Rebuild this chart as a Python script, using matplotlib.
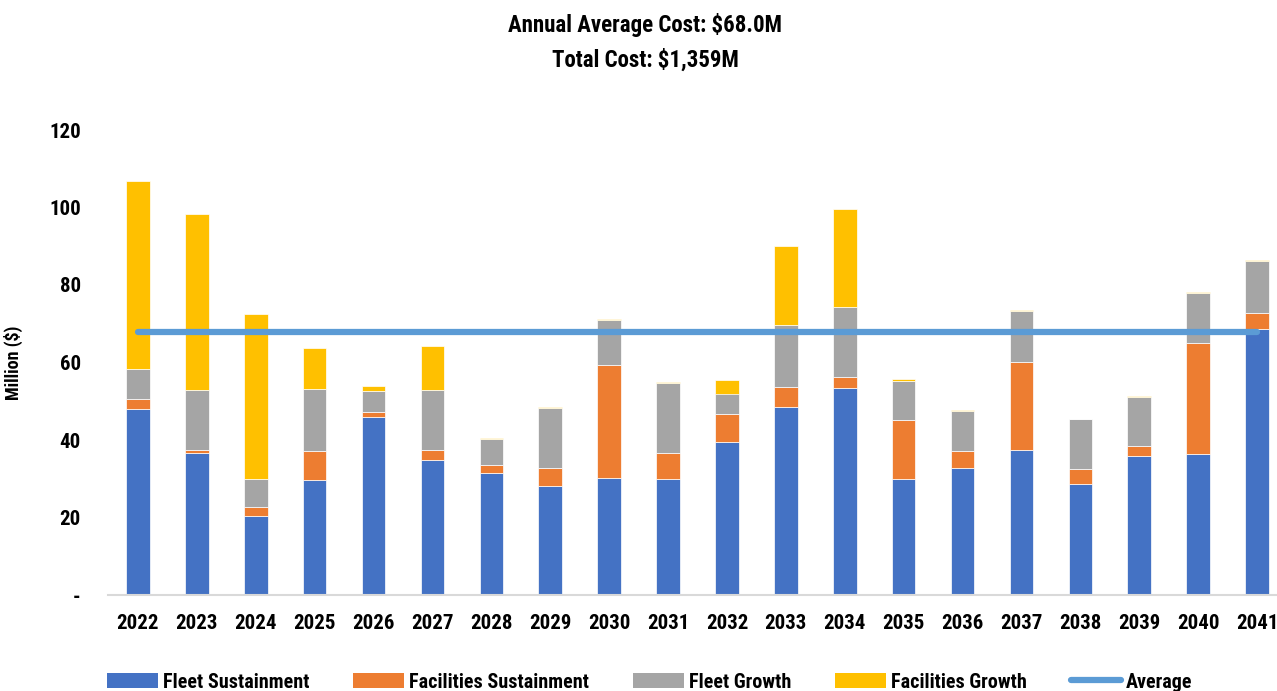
import matplotlib
matplotlib.use("Agg")
import matplotlib.pyplot as plt
import matplotlib.font_manager as fm
from matplotlib.patches import Patch
from matplotlib.lines import Line2D
import numpy as np

years = [str(y) for y in range(2022, 2042)]
fleet_sustainment = [47.9, 36.7, 20.5, 29.8, 46.0, 34.9, 31.6, 28.1, 30.1, 29.9,
                     39.6, 48.6, 53.5, 30.0, 32.7, 37.5, 28.7, 36.0, 36.3, 68.6]
facilities_sustainment = [2.7, 0.8, 2.3, 7.3, 1.1, 2.4, 1.9, 4.6, 29.3, 6.8,
                          7.0, 5.0, 2.7, 15.1, 4.4, 22.7, 3.7, 2.4, 28.8, 4.3]
fleet_growth = [7.8, 15.4, 7.2, 16.1, 5.5, 15.5, 6.8, 15.6, 11.5, 17.9,
                5.4, 16.2, 18.0, 10.2, 10.3, 13.0, 12.9, 12.8, 12.9, 13.3]
facilities_growth = [48.5, 45.5, 42.4, 10.5, 1.3, 11.5, 0.3, 0.2, 0.3, 0.4,
                     3.4, 20.3, 25.3, 0.4, 0.3, 0.3, 0.2, 0.2, 0.3, 0.3]
average = 68.0
series_names = ["Fleet Sustainment", "Facilities Sustainment", "Fleet Growth",
                "Facilities Growth", "Average"]
title_lines = ["Annual Average Cost: $68.0M", "Total Cost: $1,359M"]
yticks = [0, 20, 40, 60, 80, 100, 120]
ytick_labels = ["-", "20", "40", "60", "80", "100", "120"]

colors = ["#4472C4", "#ED7D31", "#A5A5A5", "#FFC000"]
line_color = "#5B9BD5"

names = {f.name for f in fm.fontManager.ttflist}
family = "DejaVu Sans"
for cand in ["Roboto Condensed", "Liberation Sans Narrow", "Open Sans Condensed"]:
    if cand in names:
        family = cand
        break
plt.rcParams["font.family"] = [family, "DejaVu Sans"]

W, H = 1277, 691
fig = plt.figure(figsize=(W / 100, H / 100), dpi=100)
left, right = 108.5, 1286.5
bottom, top = 595, 130
ax = fig.add_axes([left / W, (H - bottom) / H, (right - left) / W, (bottom - top) / H])

x = np.arange(len(years))
series = [fleet_sustainment, facilities_sustainment, fleet_growth, facilities_growth]
base = np.zeros(len(years))
for vals, c in zip(series, colors):
    ax.bar(x, vals, width=0.4, bottom=base, color=c, edgecolor="#FFFFFF",
           linewidth=0.5, zorder=2)
    base += np.array(vals)

ax.plot(x, [average] * len(x), color=line_color, linewidth=4.5,
        solid_capstyle="round", zorder=3)

ax.set_xlim(-0.5, len(years) - 0.5)
ax.set_ylim(0, 120)
ax.set_xticks(x)
ax.set_xticklabels(years, fontsize=15, fontweight="bold")
ax.set_yticks(yticks)
ax.set_yticklabels(ytick_labels, fontsize=15, fontweight="bold")
ax.tick_params(axis="both", length=0)
ax.tick_params(axis="x", pad=14)
ax.tick_params(axis="y", pad=20)
for s in ["top", "right", "left"]:
    ax.spines[s].set_visible(False)
ax.spines["bottom"].set_color("#D9D9D9")
ax.spines["bottom"].set_linewidth(1.5)
ax.set_ylabel("Million ($)", fontsize=13, fontweight="bold")
ax.yaxis.set_label_coords((23 - left) / (right - left), 0.5)

fig.text(645 / W, 1 - 25 / H, title_lines[0], ha="center", va="center",
         fontsize=16.5, fontweight="bold")
fig.text(645 / W, 1 - 60 / H, title_lines[1], ha="center", va="center",
         fontsize=16.5, fontweight="bold")

handles = [Patch(facecolor=c) for c in colors]
handles.append(Line2D([0], [0], color=line_color, linewidth=4.5, solid_capstyle="round"))
leg = fig.legend(handles, series_names, loc="center", ncol=5,
                 bbox_to_anchor=(650 / W, 1 - 682 / H), frameon=False,
                 handlelength=2.5, handleheight=0.75, columnspacing=2.2, handletextpad=0.25,
                 prop={"weight": "bold", "size": 14.5})

fig.savefig("out.png", dpi=100)
